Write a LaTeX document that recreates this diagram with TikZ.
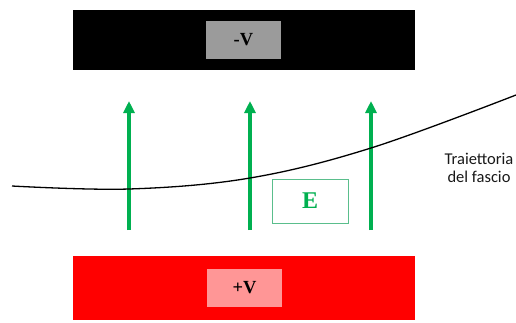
\documentclass[tikz,border=0pt]{standalone}
\usepackage{fontspec}
\setmainfont{Liberation Serif}
\newfontfamily\labfont{Carlito}
\usetikzlibrary{arrows.meta}
\definecolor{fieldgreen}{RGB}{0,176,80}
\definecolor{boxgreen}{RGB}{90,190,140}
\definecolor{platered}{RGB}{255,0,0}
\definecolor{pinkbox}{RGB}{255,150,150}
\definecolor{greybox}{RGB}{155,155,155}
\tikzset{
  plate/.style={minimum width=342pt,minimum height=#1,inner sep=0pt,draw=none},
  tag/.style={minimum width=75pt,minimum height=38pt,inner sep=0pt,font=\fontsize{18.5}{18.5}\selectfont\bfseries},
  field/.style={draw=fieldgreen,line width=3.5pt,-{Triangle[length=12pt,width=11pt]}},
  beam/.style={line width=1.3pt,black}
}
\begin{document}
\begin{tikzpicture}[x=1pt,y=-1pt]
\useasboundingbox[fill=white] (0,0) rectangle (516,322);
\node[plate=60pt,fill=black] (top) at (244,40) {};
\node[tag,fill=greybox] (minus) at (243.5,39.5) {-V};
\node[plate=64pt,fill=platered] (bot) at (244,288) {};
\node[tag,fill=pinkbox] (plus) at (244.5,287.5) {+V};
\foreach \i/\x in {1/129,2/250,3/371}{
  \coordinate (s\i) at (\x,230);
  \coordinate (e\i) at (\x,101);
  \draw[field] (s\i) -- (e\i);
}
\draw[beam] plot[smooth,tension=0.6] coordinates {(12,186) (129,189) (250,178) (371,148) (516,95)};
\node[draw=boxgreen,line width=0.9pt,minimum width=76pt,minimum height=44pt,inner sep=0pt,text=fieldgreen,font=\fontsize{24}{24}\selectfont\bfseries] (E) at (310,201) {E};
\node[font=\labfont\fontsize{16.5}{18.5}\selectfont,align=center,text=black!90] (lab) at (479,168) {Traiettoria\\del fascio};
\end{tikzpicture}
\end{document}
